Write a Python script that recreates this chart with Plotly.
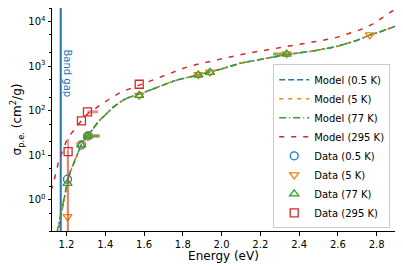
import numpy as np
import plotly.graph_objects as go

# ---------------- data ----------------
model_x = [1.150, 1.160, 1.170, 1.180, 1.190, 1.205, 1.220, 1.236, 1.256, 1.276, 1.290, 1.310,
           1.335, 1.363, 1.390, 1.415, 1.440, 1.467, 1.490, 1.518, 1.545, 1.573, 1.605, 1.638,
           1.670, 1.707, 1.740, 1.776, 1.830, 1.880, 1.940, 2.000, 2.095, 2.200, 2.336, 2.470,
           2.594, 2.697, 2.765, 2.830, 2.900]
model_05K = [0.15, 0.25, 0.42, 0.75, 1.3, 2.5, 4.3, 6.5, 11, 17, 21.5, 27,
             38, 56, 74, 94, 118, 144, 170, 195, 212, 230, 262, 296,
             340, 387, 440, 494, 560, 630, 735, 860, 1150, 1420, 1810, 2160,
             2740, 3730, 4950, 6100, 7900]
model_5K = [0.15, 0.26, 0.44, 0.78, 1.32, 2.5, 4.3, 6.5, 11, 17, 21.5, 27,
            38, 56, 74, 94, 118, 144, 170, 195, 212, 230, 262, 296,
            340, 387, 440, 494, 560, 630, 735, 860, 1150, 1420, 1810, 2160,
            2740, 3730, 4950, 6100, 7900]
model_77K = [0.18, 0.30, 0.50, 0.85, 1.40, 2.6, 4.4, 6.6, 11, 17, 21.5, 27,
             38, 56, 74, 94, 118, 144, 170, 195, 212, 230, 262, 296,
             340, 387, 440, 494, 560, 630, 735, 860, 1150, 1420, 1810, 2160,
             2740, 3730, 4950, 6100, 7900]

model295_x = [1.120, 1.140, 1.160, 1.180, 1.200, 1.220, 1.240, 1.260, 1.280, 1.310, 1.340, 1.363,
              1.424, 1.483, 1.550, 1.621, 1.681, 1.759, 1.820, 1.889, 1.958, 2.027, 2.095, 2.164,
              2.241, 2.310, 2.379, 2.447, 2.516, 2.585, 2.645, 2.714, 2.782, 2.860, 2.900]
model_295K = [1.6, 3.2, 7.5, 13, 21, 29, 38, 48, 62, 86, 106, 121,
              186, 262, 340, 440, 565, 760, 946, 1130, 1334, 1530, 1787, 2040,
              2311, 2640, 2930, 3240, 3720, 4270, 5250, 6460, 8800, 15000, 19500]

data05_x = [1.205, 1.276, 1.310]
data05_y = [2.9, 17, 27]
data05_xm = [0, 0, 0.025]
data05_xp = [0, 0, 0.060]

data5_x = [1.205, 1.276, 1.310, 1.575, 1.880, 1.940, 2.336, 2.765]
data5_y = [0.42, 17, 27, 220, 640, 730, 1880, 5000]
data5_ym = [0.39, 0, 0, 0, 0, 0, 0, 0]
data5_yp = [12, 0, 0, 0, 0, 0, 0, 0]
data5_xm = [0, 0, 0.025, 0, 0, 0, 0.070, 0]
data5_xp = [0, 0, 0.060, 0, 0, 0, 0, 0]

data77_x = [1.205, 1.276, 1.310, 1.575, 1.880, 1.940, 2.336]
data77_y = [2.35, 17, 27, 220, 630, 720, 1850]
data77_xm = [0, 0, 0.025, 0, 0, 0, 0.070]
data77_xp = [0, 0, 0.060, 0, 0, 0, 0]

data295_x = [1.208, 1.277, 1.308, 1.575]
data295_y = [12, 59, 94, 390]
data295_ym = [11.9, 0, 0, 0]
data295_yp = [11, 0, 0, 0]
data295_xm = [0, 0, 0, 0]
data295_xp = [0, 0, 0.055, 0]

band_gap = 1.17
x_ticks = [1.2, 1.4, 1.6, 1.8, 2.0, 2.2, 2.4, 2.6, 2.8]
y_ticks = [1, 10, 100, 1000, 10000]
y_ticktext = ["10<sup>0</sup>", "10<sup>1</sup>", "10<sup>2</sup>", "10<sup>3</sup>", "10<sup>4</sup>"]

BLUE, ORANGE, GREEN, RED = "#1f77b4", "#ff7f0e", "#2ca02c", "#d62728"

def rgba(hexc, a):
    h = hexc.lstrip("#")
    return "rgba(%d,%d,%d,%.2f)" % (int(h[0:2], 16), int(h[2:4], 16), int(h[4:6], 16), a)

fig = go.Figure()

# band gap line
fig.add_trace(go.Scatter(x=[band_gap, band_gap], y=[0.1, 1e5], mode="lines",
                         line=dict(color=BLUE, width=2), showlegend=False, hoverinfo="skip"))

fig.add_trace(go.Scatter(x=model_x, y=model_05K, mode="lines", name="Model (0.5 K)",
                         line=dict(color=BLUE, width=1.5, dash="6px,3px")))
fig.add_trace(go.Scatter(x=model_x, y=model_5K, mode="lines", name="Model (5 K)",
                         line=dict(color=ORANGE, width=1.5, dash="4px,5px")))
fig.add_trace(go.Scatter(x=model_x, y=model_77K, mode="lines", name="Model (77 K)",
                         line=dict(color=GREEN, width=1.5, dash="7px,3px,1px,3px")))
fig.add_trace(go.Scatter(x=model295_x, y=model_295K, mode="lines", name="Model (295 K)",
                         line=dict(color=RED, width=1.5, dash="5px,7px")))

def data_trace(x, y, name, color, symbol, xm=None, xp=None, ym=None, yp=None):
    kw = {}
    if xp is not None:
        kw["error_x"] = dict(type="data", symmetric=False, array=xp, arrayminus=xm,
                             color=rgba(color, 0.5), thickness=3, width=0)
    if yp is not None:
        kw["error_y"] = dict(type="data", symmetric=False, array=yp, arrayminus=ym,
                             color=rgba(color, 0.6), thickness=1.5, width=0)
    return go.Scatter(x=x, y=y, mode="markers", name=name,
                      marker=dict(symbol=symbol, size=8, color=color,
                                  line=dict(color=color, width=1.3)), **kw)

fig.add_trace(data_trace(data05_x, data05_y, "Data (0.5 K)", BLUE, "circle-open",
                         xm=data05_xm, xp=data05_xp))
fig.add_trace(data_trace(data5_x, data5_y, "Data (5 K)", ORANGE, "triangle-down-open",
                         xm=data5_xm, xp=data5_xp, ym=data5_ym, yp=data5_yp))
fig.add_trace(data_trace(data77_x, data77_y, "Data (77 K)", GREEN, "triangle-up-open",
                         xm=data77_xm, xp=data77_xp))
fig.add_trace(data_trace(data295_x, data295_y, "Data (295 K)", RED, "square-open",
                         xm=data295_xm, xp=data295_xp, ym=data295_ym, yp=data295_yp))

fig.add_annotation(x=1.205, y=np.log10(700), text="Band gap", textangle=90, showarrow=False,
                   font=dict(color=BLUE, size=10, family="DejaVu Sans"))

# the page body adds an 8px offset, so the figure is sized to fit the window
fig.update_layout(
    width=395, height=262,
    margin=dict(l=44, r=8, t=0, b=39, autoexpand=False),
    paper_bgcolor="white", plot_bgcolor="white",
    font=dict(family="DejaVu Sans", size=10, color="black"),
    showlegend=True,
    legend=dict(x=0.986, y=0.012, xanchor="right", yanchor="bottom",
                bgcolor="rgba(255,255,255,0.85)", bordercolor="#cccccc", borderwidth=1,
                font=dict(size=10), tracegroupgap=0, itemwidth=30),
    xaxis=dict(range=[1.125, 2.895], tickvals=x_ticks, ticktext=[f"{v:.1f}" for v in x_ticks],
               showgrid=False, zeroline=False, showline=True, linecolor="black", linewidth=1,
               mirror=True, ticks="outside", ticklen=3.5, tickcolor="black", automargin=False,
               title=dict(text="Energy (eV)", standoff=3)),
    yaxis=dict(type="log", range=[np.log10(0.2), np.log10(2.0e4)], tickvals=y_ticks,
               ticktext=y_ticktext, showgrid=False, zeroline=False, showline=True,
               linecolor="black", linewidth=1, mirror=True, ticks="outside", ticklen=3.5,
               tickcolor="black", automargin=False,
               minor=dict(ticks="outside", ticklen=2, tickcolor="black", showgrid=False),
               title=dict(text="σ<sub>p.e.</sub> (cm<sup>2</sup>/g)", standoff=4)),
)

fig.write_html("out.html")
